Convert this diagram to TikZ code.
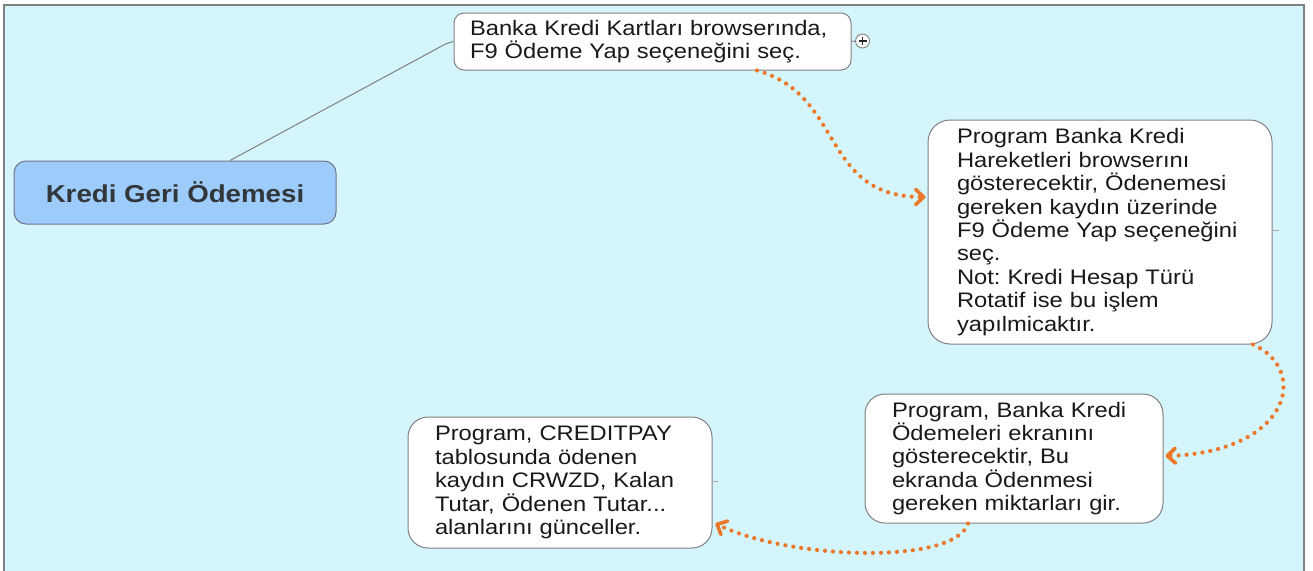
\documentclass[tikz,border=0pt]{standalone}
\usepackage{fontspec}
\setmainfont[FakeStretch=1.13]{Liberation Sans}
\usetikzlibrary{arrows.meta}
\frenchspacing
\definecolor{bgc}{RGB}{213,245,253}
\definecolor{rootc}{RGB}{158,204,250}
\definecolor{edgec}{RGB}{128,128,128}
\definecolor{orangec}{RGB}{235,120,40}
\definecolor{txtc}{RGB}{25,25,25}
\definecolor{titlec}{RGB}{50,55,60}
\begin{document}
\begin{tikzpicture}[x=1pt,y=-1pt,
  box/.style={draw=edgec, fill=white, line width=1pt, rounded corners=#1, align=left,
    font=\fontsize{21}{23.4}\selectfont, text=txtc, inner ysep=2pt},
  box/.default=10pt,
  rootbox/.style={draw=edgec!90!blue, fill=rootc, line width=1pt, rounded corners=12pt,
    font=\bfseries\fontsize{24.5}{28}\selectfont, text=titlec},
  flow/.style={draw=orangec, line width=4.2pt, line cap=round, dash pattern=on 0pt off 8pt,
    -{Straight Barb[length=8pt,width=15pt,line width=3.6pt,round]}},
  link/.style={draw=edgec, line width=1pt},
  tick/.style={draw=edgec!70, line width=0.8pt}
]
\useasboundingbox (0,0) rectangle (1313,570);
\fill[white] (0,0) rectangle (1313,570);
\draw[fill=bgc, draw=edgec, line width=1.6pt] (4,5) rectangle (1304,590);

\node[rootbox, minimum width=322pt, minimum height=63pt] (root) at (175,192.5) {Kredi Geri Ödemesi};

\node[box=10pt, text width=365pt, inner xsep=16pt, minimum height=57pt] (top) at (652.5,41.5)
  {Banka Kredi Kartları browserında,\\F9 Ödeme Yap seçeneğini seç.};

\node[circle, draw=edgec, fill=white, minimum size=14pt, inner sep=0pt, line width=0.9pt] (plus) at (862.5,41) {};

\node[box=22pt, text width=286pt, inner xsep=29pt, minimum height=224pt] (mid) at (1100,232)
  {Program Banka Kredi\\Hareketleri browserını\\gösterecektir, Ödenemesi\\gereken kaydın üzerinde\\F9 Ödeme Yap seçeneğini\\seç.\\Not: Kredi Hesap Türü\\Rotatif ise bu işlem\\yapılmicaktır.};

\node[box=20pt, text width=244pt, inner xsep=27pt, minimum height=129pt] (br) at (1014,458.5)
  {Program, Banka Kredi\\Ödemeleri ekranını\\gösterecektir, Bu\\ekranda Ödenmesi\\gereken miktarları gir.};

\node[box=20pt, text width=250pt, inner xsep=27pt, minimum height=131pt] (bl) at (560,482.5)
  {Program, CREDITPAY\\tablosunda ödenen\\kaydın CRWZD, Kalan\\Tutar, Ödenen Tutar...\\alanlarını günceller.};

% links
\draw[link] ([xshift=55pt]root.north) -- ([xshift=-8pt,yshift=-2.5pt]top.west) -- (top.west);
\draw[link] (top.east) -- (plus.west);
\draw[line width=1.4pt, black!85] ([xshift=-4pt]plus.center) -- ([xshift=4pt]plus.center)
  ([yshift=-4pt]plus.center) -- ([yshift=4pt]plus.center);
\draw[tick] ([yshift=2pt]mid.east) -- ++(6,0);
\draw[tick] ([yshift=1.5pt]bl.east) -- ++(5,0);

% flow connectors
\draw[flow] ([xshift=104.5pt]top.south) .. controls (845,95) and (820,197) .. ([xshift=-2pt,yshift=35pt]mid.west);
\draw[flow] ([xshift=153pt]mid.south) .. controls (1310,370) and (1290,452) .. ([xshift=2pt,yshift=2.5pt]br.east);
\draw[flow] ([xshift=-46pt]br.south) .. controls (955,565) and (790,560) .. ([xshift=3pt,yshift=-41pt]bl.east);
\end{tikzpicture}
\end{document}
